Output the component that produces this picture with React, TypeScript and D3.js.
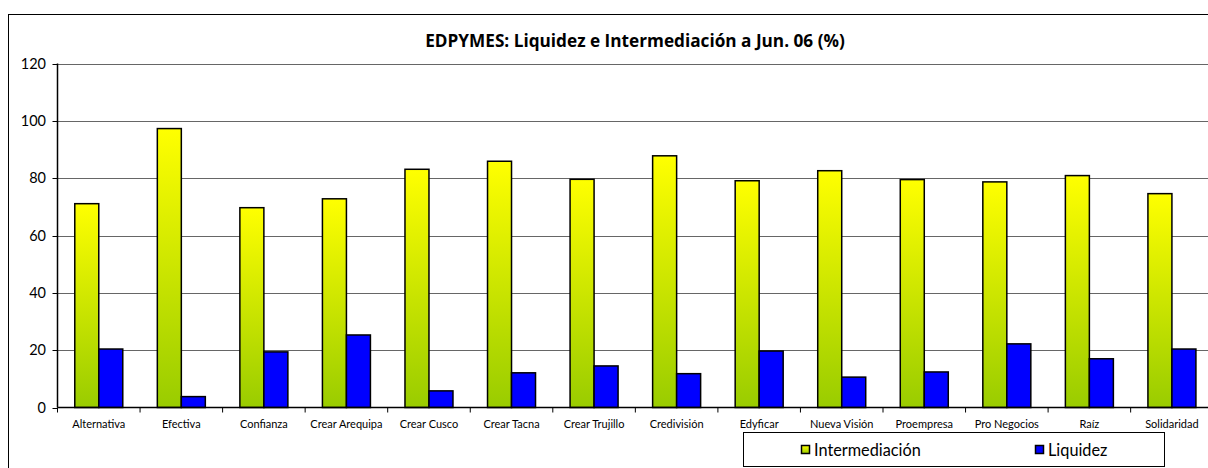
import React from "react";
import * as d3 from "d3";

const categories = ["Alternativa", "Efectiva", "Confianza", "Crear Arequipa", "Crear Cusco", "Crear Tacna", "Crear Trujillo", "Credivisión", "Edyficar", "Nueva Visión", "Proempresa", "Pro Negocios", "Raíz", "Solidaridad"];
const intermediacion = [71.1, 97.3, 69.7, 72.8, 83.1, 85.9, 79.6, 87.8, 79.1, 82.6, 79.5, 78.7, 80.9, 74.6];
const liquidez = [20.4, 3.8, 19.4, 25.3, 5.8, 12.1, 14.5, 11.8, 19.7, 10.6, 12.4, 22.2, 17.0, 20.4];
const yTicks = [0, 20, 40, 60, 80, 100, 120];
const seriesNames = ["Intermediación", "Liquidez"];

const FONT = "Lato, 'Open Sans', sans-serif";

export default function App() {
  const W = 1208, H = 468;
  const x0 = 57.5, bandW = 82.55;
  const x = d3.scaleBand<string>().domain(categories).range([x0, x0 + bandW * categories.length]).paddingInner(0).paddingOuter(0);
  const y = d3.scaleLinear().domain([0, 120]).range([407.5, 63.5]);
  const barW = 24;
  const off = (bandW - 2 * barW) / 2;
  return (
    <svg width={W} height={H} style={{ position: "absolute", left: 0, top: 0, fontFamily: FONT }}>
      <defs>
        <linearGradient id="yg" x1="0" y1="0" x2="0" y2="1">
          <stop offset="0" stopColor="#ffff00" />
          <stop offset="1" stopColor="#99cc00" />
        </linearGradient>
      </defs>
      <rect x={0} y={0} width={W} height={H} fill="#fff" />
      <rect x={8.5} y={14.5} width={1240} height={500} fill="none" stroke="#000" strokeWidth={1} />
      <text x={635} y={47} textAnchor="middle" fontWeight="bold" fontSize={17.2} fontFamily="'Open Sans', sans-serif" fill="#000">
        EDPYMES: Liquidez e Intermediación a Jun. 06 (%)
      </text>
      {yTicks.map((t) => (
        <g key={t}>
          {t > 0 && <line x1={x0} x2={W} y1={Math.round(y(t)) + 0.5} y2={Math.round(y(t)) + 0.5} stroke="#666" strokeWidth={1} />}
          <line x1={x0 - 5} x2={x0} y1={Math.round(y(t)) + 0.5} y2={Math.round(y(t)) + 0.5} stroke="#000" />
          <text x={46} y={y(t) + 5} textAnchor="end" fontSize={14.5} fill="#000">{t}</text>
        </g>
      ))}
      {categories.map((c, i) => {
        const bx = x(c)!;
        const yi = y(intermediacion[i]);
        const yl = y(liquidez[i]);
        return (
          <g key={c}>
            <rect x={bx + off} y={yi} width={barW} height={y(0) - yi} fill="url(#yg)" stroke="#000" strokeWidth={1.5} />
            <rect x={bx + off + barW} y={yl} width={barW} height={y(0) - yl} fill="#0000ff" stroke="#000" strokeWidth={1.5} />
            <text x={bx + bandW / 2} y={428} textAnchor="middle" fontSize={11} fill="#000">{c}</text>
          </g>
        );
      })}
      <line x1={x0} x2={x0} y1={y(120)} y2={y(0)} stroke="#000" strokeWidth={1.5} />
      <line x1={x0} x2={W} y1={y(0)} y2={y(0)} stroke="#000" strokeWidth={1.5} />
      {d3.range(categories.length + 1).map((k) => (
        <line key={k} x1={x0 + k * bandW} x2={x0 + k * bandW} y1={y(0)} y2={y(0) + 5} stroke="#000" />
      ))}
      <rect x={743.5} y={432.5} width={421} height={34} fill="#fff" stroke="#000" strokeWidth={1} />
      <rect x={801.5} y={445.5} width={8} height={8} fill="url(#yg)" stroke="#000" strokeWidth={1.5} />
      <text x={814} y={455.5} fontSize={16.3} fill="#000">{seriesNames[0]}</text>
      <rect x={1035.5} y={445.5} width={8} height={8} fill="#0000ff" stroke="#000" strokeWidth={1.5} />
      <text x={1048} y={455.5} fontSize={16.3} fill="#000">{seriesNames[1]}</text>
    </svg>
  );
}
